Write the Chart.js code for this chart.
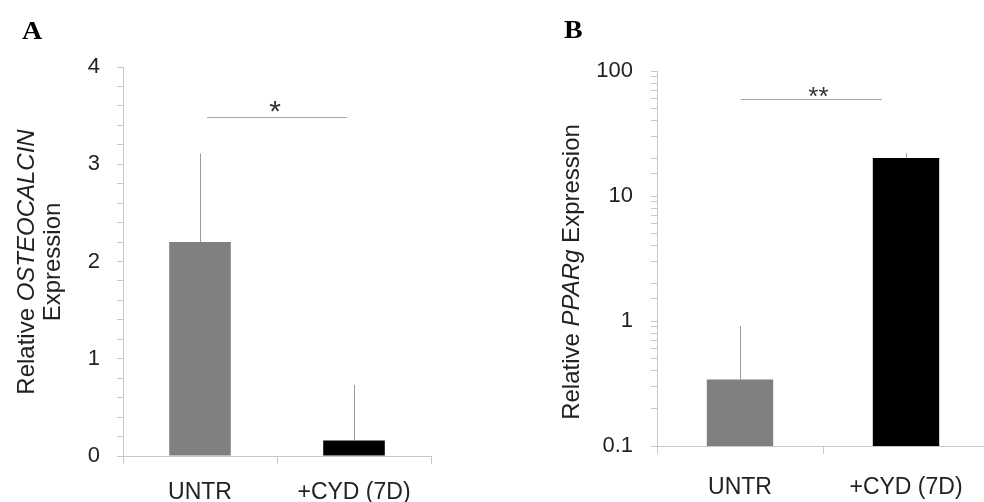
<!DOCTYPE html>
<html><head><meta charset="utf-8">
<script src="https://cdn.jsdelivr.net/npm/chart.js@4/dist/chart.umd.min.js"></script>
<style>
html,body{margin:0;padding:0;background:#fff;overflow:hidden;}
#wrap{position:relative;width:984px;height:502px;overflow:hidden;background:#fff;}
#cA{position:absolute;left:0;top:0;}
#cB{position:absolute;left:492px;top:0;}
</style></head><body>
<div id="wrap">
<canvas id="cA" width="492" height="502"></canvas>
<canvas id="cB" width="497" height="502"></canvas>
</div>
<script>
// ---- data ----
const categories = ['UNTR', '+CYD (7D)'];
const osteocalcinValues = [2.2, 0.16];
const osteocalcinErrors = [0.91, 0.57];
const pparValues = [0.34, 20.1];
const pparErrors = [0.57, 1.9];
const barColors = ['#808080', '#000000'];
const osteocalcinRange = {min: 0, max: 4, step: 0.2};
const pparRange = {min: 0.1, max: 100};
const sigA = {y: 3.49, label: '*'};
const sigB = {y: 60, label: '**'};

const SANS = '"Liberation Sans", Arial, sans-serif';
const SERIF = '"Liberation Serif", "Times New Roman", serif';

const annot = {
  id: 'annot',
  afterDatasetsDraw(chart, args, o) {
    const ctx = chart.ctx, xs = chart.scales.x, ys = chart.scales.y;
    const meta = chart.getDatasetMeta(0);
    ctx.save();
    ctx.strokeStyle = '#9a9a9a'; ctx.lineWidth = 1;
    meta.data.forEach((bar, i) => {
      const v = o.values[i], e = o.errors[i];
      const px = Math.round(bar.x) + 0.5;
      ctx.beginPath();
      ctx.moveTo(px, ys.getPixelForValue(v));
      ctx.lineTo(px, ys.getPixelForValue(v + e));
      ctx.stroke();
    });
    // significance line
    const s = o.sig;
    const sy = Math.round(ys.getPixelForValue(s.y)) + 0.5;
    const x1 = xs.getPixelForValue(o.sigFrom), x2 = xs.getPixelForValue(o.sigTo);
    ctx.strokeStyle = '#a8a8a8';
    ctx.beginPath(); ctx.moveTo(x1, sy); ctx.lineTo(x2, sy); ctx.stroke();
    ctx.font = o.starFont; ctx.fillStyle = '#333'; ctx.textAlign = 'center'; ctx.textBaseline = 'alphabetic';
    const m = ctx.measureText(s.label);
    const cx = (x1 + x2) / 2 + o.starDx;
    const cy = sy - o.starGap;
    ctx.fillText(s.label, cx, cy + (m.actualBoundingBoxAscent - m.actualBoundingBoxDescent) / 2);
    ctx.restore();
  },
  afterDraw(chart, args, o) {
    const ctx = chart.ctx;
    ctx.save();
    // panel letter
    ctx.save();
    ctx.translate(o.letterX, o.letterY);
    ctx.scale(1.12, 1);
    ctx.font = 'bold 25px ' + SERIF; ctx.fillStyle = '#000';
    ctx.textAlign = 'left'; ctx.textBaseline = 'alphabetic';
    ctx.fillText(o.letter, 0, 0);
    ctx.restore();
    // axis title
    ctx.fillStyle = '#222'; ctx.textBaseline = 'middle';
    o.titleLines.forEach((line, li) => {
      ctx.save();
      ctx.translate(o.titleX[li], o.titleY);
      ctx.rotate(-Math.PI / 2);
      let w = 0;
      line.forEach(seg => { ctx.font = (seg.i ? 'italic ' : '') + '24px ' + SANS; w += ctx.measureText(seg.t).width; });
      let x = -w / 2;
      ctx.textAlign = 'left';
      line.forEach(seg => { ctx.font = (seg.i ? 'italic ' : '') + '24px ' + SANS; ctx.fillText(seg.t, x, 0); x += ctx.measureText(seg.t).width; });
      ctx.restore();
    });
    ctx.restore();
  }
};

function baseOptions(top, right, yWidth, xHeight, xPad) {
  return {
    responsive: false, animation: false,
    layout: {padding: {left: 0, top: top, right: right, bottom: 0}},
    plugins: {legend: {display: false}, tooltip: {enabled: false}, title: {display: false}},
    scales: {
      x: {
        offset: true,
        grid: {offset: true, drawOnChartArea: false, drawTicks: true, tickLength: 8, color: '#c8c8c8'},
        border: {display: true, color: '#c8c8c8', width: 1},
        ticks: {color: '#222', font: {family: SANS, size: 23}, padding: xPad, maxRotation: 0, autoSkip: false},
        afterFit: s => { s.height = xHeight; }
      },
      y: {
        grid: {drawOnChartArea: false, drawTicks: true, tickLength: 6, color: '#c8c8c8'},
        border: {display: true, color: '#c8c8c8', width: 1},
        afterFit: s => { s.width = yWidth; }
      }
    }
  };
}

// Panel A
const optA = baseOptions(67, 61, 123, 46, 15);
Object.assign(optA.scales.y, {
  type: 'linear', min: osteocalcinRange.min, max: osteocalcinRange.max
});
optA.scales.y.ticks = {
  stepSize: osteocalcinRange.step, autoSkip: false, color: '#222', padding: 17,
  font: {family: SANS, size: 22},
  callback: v => Math.abs(v - Math.round(v)) < 1e-6 ? String(Math.round(v)) : ''
};
optA.plugins.annot = {
  values: osteocalcinValues, errors: osteocalcinErrors, sig: sigA,
  sigFrom: 0.045, sigTo: 0.955, starFont: '30px ' + SANS, starDx: -2, starGap: 11,
  letter: 'A', letterX: 22, letterY: 39,
  titleLines: [[{t: 'Relative '}, {t: 'OSTEOCALCIN', i: true}], [{t: 'Expression'}]],
  titleX: [27, 53], titleY: 262
};
new Chart(document.getElementById('cA'), {
  type: 'bar',
  data: {labels: categories, datasets: [{data: osteocalcinValues, backgroundColor: barColors, borderWidth: 0, barPercentage: 0.4, categoryPercentage: 1}]},
  options: optA,
  plugins: [annot]
});

// Panel B
const optB = baseOptions(71, 0, 165, 56, 20);
Object.assign(optB.scales.y, {
  type: 'logarithmic', min: pparRange.min, max: pparRange.max
});
optB.scales.y.ticks = {
  autoSkip: false, color: '#222', padding: 18,
  font: {family: SANS, size: 22},
  callback: v => { const l = Math.log10(v); return Math.abs(l - Math.round(l)) < 1e-6 ? String(+v.toPrecision(3)) : ''; }
};
optB.plugins.annot = {
  values: pparValues, errors: pparErrors, sig: sigB,
  sigFrom: 0.006, sigTo: 0.855, starFont: '26px ' + SANS, starDx: 7, starGap: 8,
  letter: 'B', letterX: 72, letterY: 38,
  titleLines: [[{t: 'Relative '}, {t: 'PPARg', i: true}, {t: ' Expression'}]],
  titleX: [80], titleY: 272
};
new Chart(document.getElementById('cB'), {
  type: 'bar',
  data: {labels: categories, datasets: [{data: pparValues, backgroundColor: barColors, borderWidth: 0, barPercentage: 0.4, categoryPercentage: 1}]},
  options: optB,
  plugins: [annot]
});
</script>
</body></html>
